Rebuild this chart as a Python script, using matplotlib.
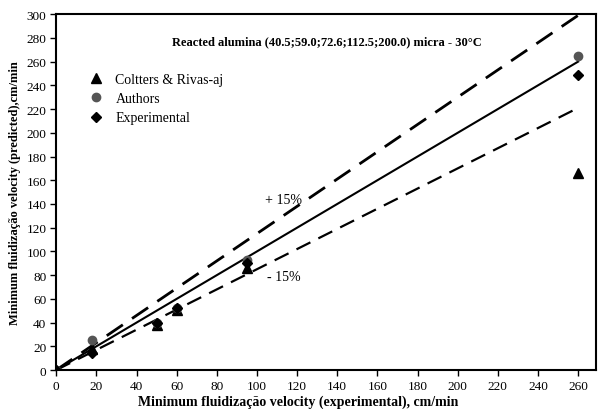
import matplotlib

matplotlib.use("Agg")
import matplotlib.pyplot as plt

plt.rcParams["font.family"] = ["Liberation Serif", "DejaVu Serif"]

# experimental velocity (cm/min)
x_exp = [0, 18, 50, 60, 95, 260]
colters = [0, 18, 38, 51, 86, 166]
authors = [0, 25, 40, 52, 93, 265]
experimental = [0, 14, 40, 52, 90, 249]

line_x = [0, 260]
bands = {"+ 15%": 1.15, "- 15%": 0.85}

fig = plt.figure(figsize=(5.98, 4.10), dpi=100)
ax = fig.add_axes([0.094, 0.095, 0.903, 0.868])

ax.plot(line_x, line_x, color="black", lw=1.5)
for name, f in bands.items():
    ax.plot(line_x, [v * f for v in line_x], color="black", lw=2.0 if f > 1 else 1.6,
            dashes=(7, 4))

ax.plot(x_exp, colters, "^", color="black", ms=7, ls="none", label="Coltters & Rivas-aj")
ax.plot(x_exp, authors, "o", color="#555555", ms=6, ls="none", label="Authors")
ax.plot(x_exp, experimental, "D", color="black", ms=5.5, ls="none", label="Experimental")

ax.text(113, 144, "+ 15%", ha="center", va="center", fontsize=10)
ax.text(105, 79, "- 15%", ha="left", va="center", fontsize=10)
ax.text(135, 277, "Reacted alumina (40.5;59.0;72.6;112.5;200.0) micra - 30°C",
        ha="center", va="center", fontsize=9, fontweight="bold")

ax.legend(loc="upper left", bbox_to_anchor=(0.035, 0.87), frameon=False, fontsize=10,
          handletextpad=0.8, labelspacing=0.45, handlelength=1.2)

ax.set_xlim(0, 269)
ax.set_ylim(0, 300)
ax.set_xticks(range(0, 261, 20))
ax.set_yticks(range(0, 301, 20))
ax.tick_params(direction="out", length=4, width=1, labelsize=9.5, pad=3)
for s in ax.spines.values():
    s.set_linewidth(1.5)

ax.set_xlabel("Minimum fluidização velocity (experimental), cm/min", fontsize=10,
              fontweight="bold")
ax.xaxis.set_label_coords(0.448, -0.068)
ax.set_ylabel("Minimum fluidização velocity (predicted),cm/min", fontsize=9,
              fontweight="bold", labelpad=4)

fig.savefig("out.png", dpi=100)
